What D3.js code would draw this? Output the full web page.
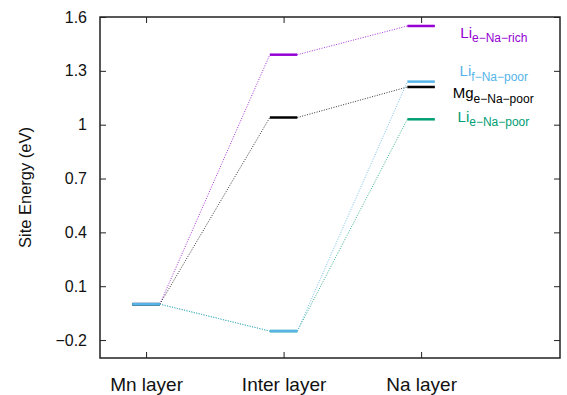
<!DOCTYPE html>
<html>
<head>
<meta charset="utf-8">
<script src="https://cdn.jsdelivr.net/npm/d3@7"></script>
<style>
  body { margin: 0; background: #fff; }
  svg { display: block; font-family: "Liberation Sans", Arial, sans-serif; }
</style>
</head>
<body>
<script>
const layers = ['Mn layer', 'Inter layer', 'Na layer']
const yTicks = [-0.2, 0.1, 0.4, 0.7, 1, 1.3, 1.6]

// site energies (eV) per layer
const liENaPoor = [0, -0.15, 1.03]
const liFNaPoor = [0, -0.15, 1.24]
const mgENaPoor = [0, 1.04, 1.21]
const liENaRich = [0, 1.39, 1.55]

const series = [
  { name: 'Li', sub: 'e\u2212Na\u2212rich', color: '#9400d3', values: liENaRich, lx: 2.285, ly: 1.485 },
  { name: 'Mg', sub: 'e\u2212Na\u2212poor', color: '#000000', values: mgENaPoor, lx: 2.23, ly: 1.147 },
  { name: 'Li', sub: 'e\u2212Na\u2212poor', color: '#009e73', values: liENaPoor, lx: 2.265, ly: 1.015 },
  { name: 'Li', sub: 'f\u2212Na\u2212poor', color: '#56b4e9', values: liFNaPoor, lx: 2.28, ly: 1.271 }
]

const width = 567
const height = 395
const margin = { top: 17, right: 7, bottom: 37, left: 100 }
const halfW = 0.1

const svg = d3.select('body').append('svg')
  .attr('width', width)
  .attr('height', height)

const x = d3.scaleLinear()
  .domain([-0.335, 3.01])
  .range([margin.left, width - margin.right])

const y = d3.scaleLinear()
  .domain([-0.3, 1.6])
  .range([height - margin.bottom, margin.top])

const fmt = d3.format('.1~f')

// axes, ticks pointing inward, mirrored
svg.append('g')
  .attr('class', 'yaxis')
  .attr('transform', `translate(${margin.left},0)`)
  .call(d3.axisLeft(y).tickValues(yTicks).tickSize(-6).tickPadding(13).tickFormat(fmt))
svg.append('g')
  .attr('transform', `translate(${width - margin.right},0)`)
  .call(d3.axisRight(y).tickValues(yTicks).tickSize(-6).tickFormat(''))
svg.append('g')
  .attr('class', 'xaxis')
  .attr('transform', `translate(0,${height - margin.bottom})`)
  .call(d3.axisBottom(x).tickValues(d3.range(layers.length)).tickSize(-6).tickFormat(i => layers[i]))
svg.append('g')
  .attr('transform', `translate(0,${margin.top})`)
  .call(d3.axisTop(x).tickValues(d3.range(layers.length)).tickSize(-6).tickFormat(''))

svg.selectAll('.domain').remove()
svg.selectAll('.tick line').attr('stroke', '#222').attr('stroke-width', 1)
svg.selectAll('.yaxis .tick text').attr('font-size', 16).attr('fill', '#111')
svg.selectAll('.xaxis .tick text')
  .attr('font-size', 19)
  .attr('fill', '#111')
  .attr('dy', null)
  .attr('y', 33)

svg.append('rect')
  .attr('x', margin.left)
  .attr('y', margin.top)
  .attr('width', width - margin.left - margin.right)
  .attr('height', height - margin.top - margin.bottom)
  .attr('fill', 'none')
  .attr('stroke', '#222')
  .attr('stroke-width', 1.5)

svg.append('text')
  .attr('transform', `translate(31,${(margin.top + height - margin.bottom) / 2}) rotate(-90)`)
  .attr('text-anchor', 'middle')
  .attr('font-size', 16.5)
  .attr('fill', '#111')
  .text('Site Energy (eV)')

const plot = svg.append('g')

series.forEach(s => {
  const g = plot.append('g')
  const links = d3.range(s.values.length - 1).map(i => [i, s.values[i], s.values[i + 1]])
  g.selectAll('line.link')
    .data(links)
    .enter().append('line')
    .attr('class', 'link')
    .attr('x1', d => x(d[0] + halfW))
    .attr('y1', d => y(d[1]))
    .attr('x2', d => x(d[0] + 1 - halfW))
    .attr('y2', d => y(d[2]))
    .attr('stroke', s.color)
    .attr('stroke-width', 1)
    .attr('stroke-dasharray', '1,1.5')
    .attr('opacity', 0.8)

  g.selectAll('line.level')
    .data(s.values)
    .enter().append('line')
    .attr('class', 'level')
    .attr('x1', (d, i) => x(i - halfW))
    .attr('x2', (d, i) => x(i + halfW))
    .attr('y1', d => y(d))
    .attr('y2', d => y(d))
    .attr('stroke', s.color)
    .attr('stroke-width', 2.5)

  const t = svg.append('text')
    .attr('x', x(s.lx))
    .attr('y', y(s.ly))
    .attr('fill', s.color)
    .attr('font-size', 15)
  t.append('tspan').text(s.name)
  t.append('tspan').attr('dy', 4.5).attr('font-size', 12).text(s.sub)
})
</script>
</body>
</html>
